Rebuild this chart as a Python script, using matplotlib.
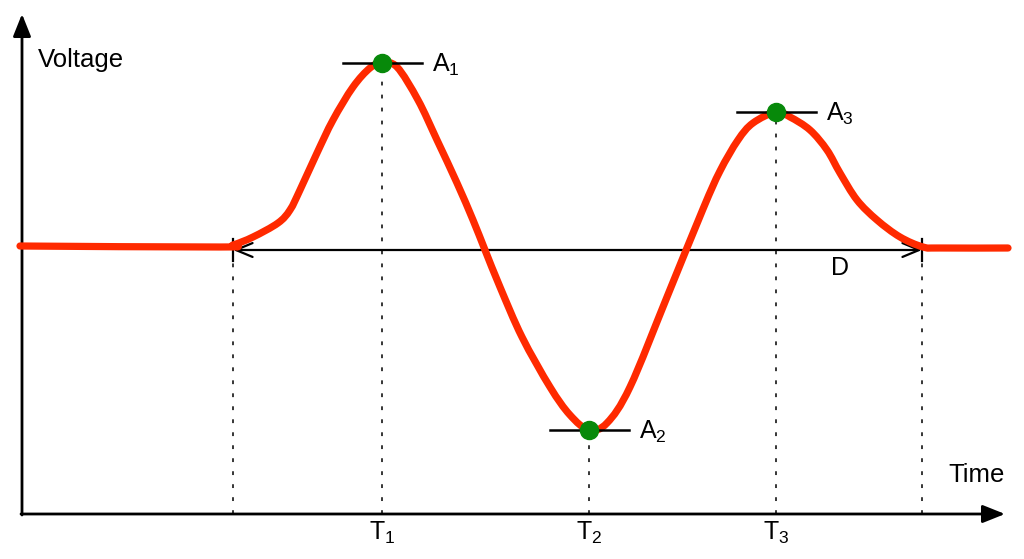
import matplotlib.pyplot as plt
from matplotlib.path import Path
from matplotlib.patches import PathPatch

plt.rcParams['font.family'] = ['Liberation Sans', 'DejaVu Sans']
plt.rcParams['mathtext.fontset'] = 'custom'
plt.rcParams['mathtext.rm'] = 'Liberation Sans'
plt.rcParams['mathtext.it'] = 'Liberation Sans'
plt.rcParams['mathtext.default'] = 'regular'

# waveform (time, voltage), baseline voltage = 0
time = [20, 220, 233, 253, 278, 290, 300, 317, 333, 353,
        370, 382, 397, 418, 437, 457, 473, 485, 500, 522,
        550, 570, 589, 607, 630, 667, 703, 720, 738, 753,
        776, 790, 810, 827, 840, 857, 877, 900, 923, 940,
        1008]
voltage = [1, 0, 2, 10, 24, 37, 57, 94, 127, 160,
           179, 184, 180, 147, 107, 64, 27, -3, -40, -90,
           -140, -168, -183, -176, -140, -50, 38, 76, 107, 124,
           135, 130, 117, 97, 74, 47, 27, 10, 0, -1,
           -1]

# peaks
peak_t = [382, 589, 776]
peak_v = [184, -183, 135]
peak_labels = [r'A$_1$', r'A$_2$', r'A$_3$']
time_labels = [r'T$_1$', r'T$_2$', r'T$_3$']

# duration markers
d_start, d_end = 233, 922
origin_t, origin_v = 22, -267

fig = plt.figure(figsize=(10.24, 5.59), dpi=100)
ax = fig.add_axes([0, 0, 1, 1])
ax.set_xlim(0, 1024)
ax.set_ylim(-312, 247)
ax.axis('off')

# axes arrows
ax.annotate('', xy=(origin_t, 233), xytext=(origin_t, origin_v - 1),
            arrowprops=dict(arrowstyle='-|>,head_length=0.8,head_width=0.32',
                            mutation_scale=17, lw=2, color='black',
                            shrinkA=0, shrinkB=0))
ax.annotate('', xy=(1005, origin_v), xytext=(origin_t - 1, origin_v),
            arrowprops=dict(arrowstyle='-|>,head_length=0.8,head_width=0.32',
                            mutation_scale=17, lw=2, color='black',
                            shrinkA=0, shrinkB=0))

# dotted guide lines
for t, v in zip([d_start] + peak_t + [d_end], [-3] + peak_v + [-3]):
    ax.plot([t, t], [origin_v, v], color='black', lw=1.1,
            linestyle=(0, (2.5, 6)), zorder=1)

# duration arrow with end bars
ax.annotate('', xy=(d_end, -3), xytext=(d_start, -3),
            arrowprops=dict(arrowstyle='<->,head_length=0.6,head_width=0.25',
                            mutation_scale=20, lw=1.6, color='black',
                            shrinkA=0, shrinkB=0), zorder=2)
for t in [d_start, d_end]:
    ax.plot([t, t], [8, -14], color='black', lw=1.6, zorder=2)

# smooth curve through the read points (cubic bezier segments)
pts = list(zip(time, voltage))
verts = [pts[0]]
codes = [Path.MOVETO]
for i in range(len(pts) - 1):
    p0 = pts[max(i - 1, 0)]
    p1 = pts[i]
    p2 = pts[i + 1]
    p3 = pts[min(i + 2, len(pts) - 1)]
    c1 = (p1[0] + (p2[0] - p0[0]) / 6, p1[1] + (p2[1] - p0[1]) / 6)
    c2 = (p2[0] - (p3[0] - p1[0]) / 6, p2[1] - (p3[1] - p1[1]) / 6)
    verts += [c1, c2, p2]
    codes += [Path.CURVE4] * 3
ax.add_patch(PathPatch(Path(verts, codes), facecolor='none', edgecolor='#ff2a00',
                       lw=5.2, capstyle='round', joinstyle='round', zorder=3))

for t, v, lab in zip(peak_t, peak_v, peak_labels):
    ax.plot([t - 39, t + 40], [v, v], color='black', lw=1.8, zorder=4)
    ax.plot(t, v, 'o', color='#07890a', markersize=13, zorder=5)
    ax.text(t + 50, v - 2, lab, fontsize=18, va='center', ha='left')

for t, lab in zip(peak_t, time_labels):
    ax.text(t, origin_v - 19, lab, fontsize=18, va='center', ha='center')

ax.text(38, 187, 'Voltage', fontsize=18.5, va='center', ha='left')
ax.text(948, -228, 'Time', fontsize=18.5, va='center', ha='left')
ax.text(840, -21, 'D', fontsize=18, va='center', ha='center')

fig.savefig('out.png', dpi=100)
